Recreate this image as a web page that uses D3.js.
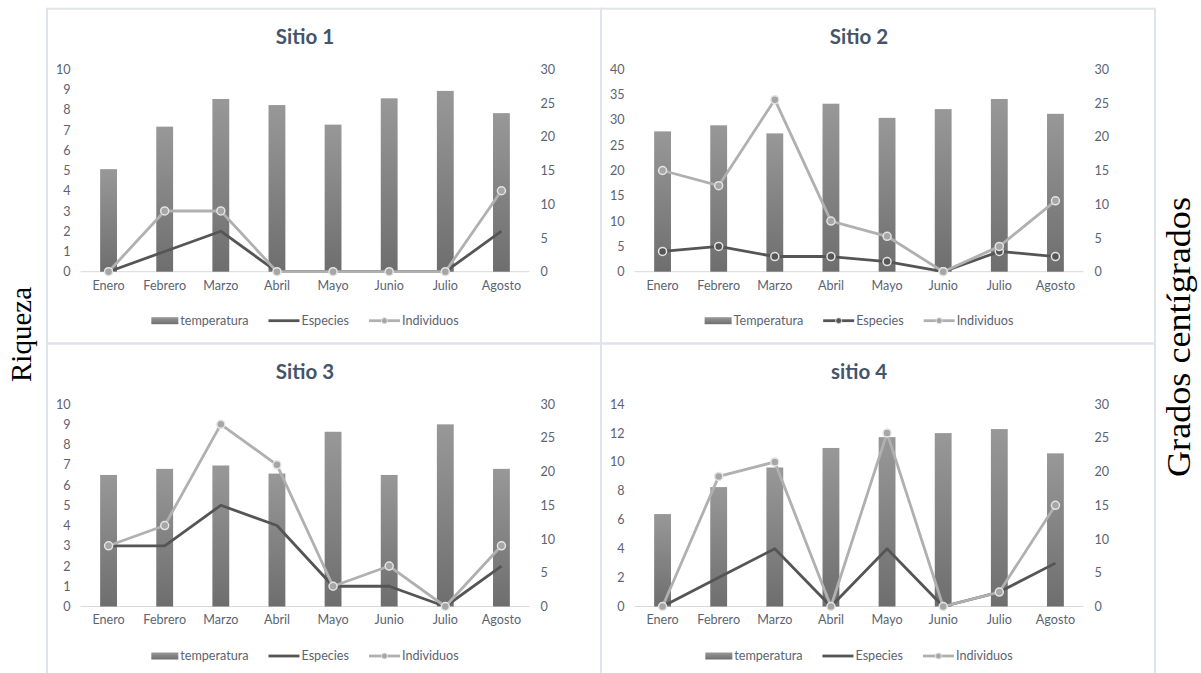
<!DOCTYPE html>
<html><head><meta charset="utf-8">
<script src="https://cdn.jsdelivr.net/npm/d3@7"></script>
<style>body{margin:0;background:#fff} svg{display:block}</style>
</head><body>
<svg id="c" width="1201" height="673"></svg>
<script>
const months = ["Enero","Febrero","Marzo","Abril","Mayo","Junio","Julio","Agosto"];
const titles = ["Sitio 1","Sitio 2","Sitio 3","sitio 4"];
const tempNames = ["temperatura","Temperatura","temperatura","temperatura"];
const temperatura1 = [15.2,21.5,25.6,24.7,21.8,25.7,26.8,23.5];
const especies1 = [0,1,2,0,0,0,0,2];
const individuos1 = [0,3,3,0,0,0,0,4];
const temperatura2 = [20.8,21.7,20.5,24.9,22.8,24.1,25.6,23.4];
const especies2 = [4,5,3,3,2,0,4,3];
const individuos2 = [20,17,34,10,7,0,5,14];
const temperatura3 = [19.5,20.4,20.9,19.7,25.9,19.5,27.0,20.4];
const especies3 = [3,3,5,4,1,1,0,2];
const individuos3 = [3,4,9,7,1,2,0,3];
const temperatura4 = [13.7,17.7,20.6,23.5,25.1,25.7,26.3,22.7];
const especies4 = [0,2,4,0,4,0,1,3];
const individuos4 = [0,9,10,0,12,0,1,7];
const leftMax = [10,40,10,14];
const leftStep = [1,5,1,2];
const rightMax = 30, rightStep = 5;
const especiesMarkers = [false,true,false,false];
const leftLabel = "Riqueza";
const rightLabel = "Grados centígrados";

const temps = [temperatura1,temperatura2,temperatura3,temperatura4];
const esps = [especies1,especies2,especies3,especies4];
const inds = [individuos1,individuos2,individuos3,individuos4];

const svg = d3.select("#c");
const defs = svg.append("defs");
const grad = defs.append("linearGradient").attr("id","barg").attr("x1",0).attr("y1",0).attr("x2",0).attr("y2",1);
grad.append("stop").attr("offset","0%").attr("stop-color","#989898");
grad.append("stop").attr("offset","100%").attr("stop-color","#6e6e6e");

const FONT = "Lato, 'Open Sans', sans-serif";
const txtCol = "#5b6372";
const espCol = "#555555", indCol = "#b0b0b0";
const panelPos = [[47,8.7],[601,8.7],[47,343.5],[601,343.5]];
const PW = 554, PH = 334.8;
const plotL = 33.5, plotR = 482.5, y0 = 263, yTop = 60.6;
const FS = 12.6;

panelPos.forEach((p,i)=>{
  const g = svg.append("g").attr("transform",`translate(${p[0]},${p[1]})`);
  g.append("rect").attr("x",0).attr("y",0).attr("width",PW).attr("height", i<2?PH:400)
    .attr("fill","none").attr("stroke","#dfe3ea").attr("stroke-width",2);

  const x = d3.scaleBand().domain(months).range([plotL,plotR]).padding(0);
  const yL = d3.scaleLinear().domain([0,leftMax[i]]).range([y0,yTop]);
  const yR = d3.scaleLinear().domain([0,rightMax]).range([y0,yTop]);
  const cx = m => x(m)+x.bandwidth()/2;
  const bw = x.bandwidth()*0.3;

  // title
  g.append("text").attr("x",(plotL+plotR)/2).attr("y",35.5).attr("text-anchor","middle")
    .attr("font-family",FONT).attr("font-weight","bold").attr("font-size",20.5).attr("fill","#44546a")
    .text(titles[i]);

  // axes
  const la = g.append("g").attr("transform",`translate(${plotL-10},0)`)
    .call(d3.axisLeft(yL).tickValues(d3.range(0,leftMax[i]+1e-9,leftStep[i])).tickSize(0).tickPadding(0));
  const ra = g.append("g").attr("transform",`translate(${plotR+11},0)`)
    .call(d3.axisRight(yR).tickValues(d3.range(0,rightMax+1e-9,rightStep)).tickSize(0).tickPadding(0));
  const ba = g.append("g").attr("transform",`translate(0,${y0+9})`)
    .call(d3.axisBottom(x).tickSize(0).tickPadding(0));
  [la,ra,ba].forEach(a=>{
    a.select(".domain").remove();
    a.selectAll("text").attr("font-family",FONT).attr("font-size",FS).attr("fill",txtCol);
  });
  ba.selectAll("text").attr("dy","0.71em");

  // baseline
  g.append("line").attr("x1",plotL).attr("x2",plotR).attr("y1",y0).attr("y2",y0)
    .attr("stroke","#d9d9d9").attr("stroke-width",1);

  // bars
  g.selectAll("rect.bar").data(months).join("rect").attr("class","bar")
    .attr("x",m=>cx(m)-bw/2).attr("width",bw)
    .attr("y",(m,j)=>yR(temps[i][j])).attr("height",(m,j)=>y0-yR(temps[i][j]))
    .attr("fill","url(#barg)");

  const line = d3.line().x((d,j)=>cx(months[j])).y(d=>yL(d));
  g.append("path").attr("d",line(esps[i])).attr("fill","none").attr("stroke",espCol)
    .attr("stroke-width",2.8).attr("stroke-linejoin","round");
  if (especiesMarkers[i]) {
    g.selectAll("circle.e").data(esps[i]).join("circle").attr("class","e")
      .attr("cx",(d,j)=>cx(months[j])).attr("cy",d=>yL(d)).attr("r",4)
      .attr("fill","#555555").attr("stroke","#e4e4e4").attr("stroke-width",1.5);
  }
  g.append("path").attr("d",line(inds[i])).attr("fill","none").attr("stroke",indCol)
    .attr("stroke-width",2.8).attr("stroke-linejoin","round");
  g.selectAll("circle.ind").data(inds[i]).join("circle").attr("class","ind")
    .attr("cx",(d,j)=>cx(months[j])).attr("cy",d=>yL(d)).attr("r",4)
    .attr("fill","#a6a6a6").attr("stroke","#e4e4e4").attr("stroke-width",1.5);

  // legend
  const lg = g.append("g").attr("transform",`translate(0,${i<2?312:312.5})`);
  const items = [
    {name:tempNames[i], type:"bar"},
    {name:"Especies", type:"line", col:espCol, mk:especiesMarkers[i], mf:"#555555"},
    {name:"Individuos", type:"line", col:indCol, mk:true, mf:"#a6a6a6"}
  ];
  const parts=[];
  items.forEach((it,k)=>{
    const ig = lg.append("g");
    if (it.type==="bar") {
      ig.append("rect").attr("x",0).attr("y",-3.5).attr("width",27).attr("height",7).attr("fill","url(#barg)");
    } else {
      ig.append("line").attr("x1",0).attr("x2",31).attr("y1",0).attr("y2",0).attr("stroke",it.col).attr("stroke-width",2.8);
      if (it.mk) ig.append("circle").attr("cx",15.5).attr("cy",0).attr("r",3).attr("fill",it.mf).attr("stroke","#e4e4e4").attr("stroke-width",1);
    }
    const sw = it.type==="bar"?27:31;
    const t = ig.append("text").attr("x",sw+2).attr("y",0).attr("dy","0.35em")
      .attr("font-family",FONT).attr("font-size",FS).attr("fill",txtCol).text(it.name);
    const w = sw+2+t.node().getComputedTextLength();
    parts.push({ig,w});
  });
  const gap = 20;
  const total = parts.reduce((s,q)=>s+q.w,0)+gap*(parts.length-1);
  let start = (plotL+plotR)/2 - total/2;
  parts.forEach(q=>{ q.ig.attr("transform",`translate(${start},0)`); start += q.w+gap; });
});

// side labels
svg.append("text").attr("transform","translate(31,334.5) rotate(-90)").attr("text-anchor","middle")
  .attr("font-family","'Liberation Serif', 'Times New Roman', serif").attr("font-size",29)
  .attr("textLength",95).attr("lengthAdjust","spacingAndGlyphs").attr("fill","#000").text(leftLabel);
svg.append("text").attr("transform","translate(1190,337) rotate(-90)").attr("text-anchor","middle")
  .attr("font-family","'Liberation Serif', 'Times New Roman', serif").attr("font-size",34)
  .attr("textLength",280).attr("lengthAdjust","spacingAndGlyphs").attr("fill","#000").text(rightLabel);
</script>
</body></html>
